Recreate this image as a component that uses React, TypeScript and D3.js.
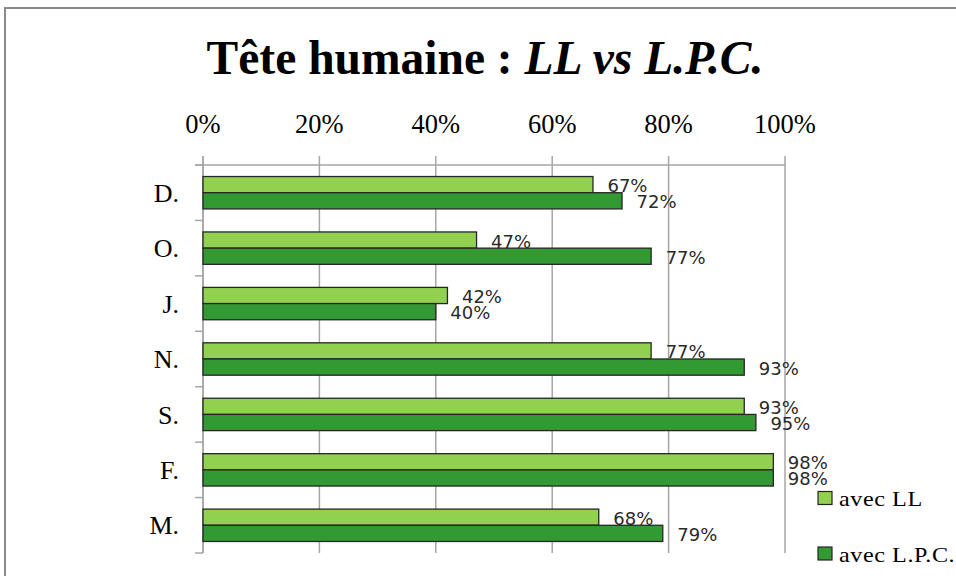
import React from "react";
import * as d3 from "d3";

const categories = ["D.", "O.", "J.", "N.", "S.", "F.", "M."];
const seriesNames = ["avec LL", "avec L.P.C."];
const valuesLL = [67, 47, 42, 77, 93, 98, 68];
const valuesLPC = [72, 77, 40, 93, 95, 98, 79];
const xTicks = [0, 20, 40, 60, 80, 100];
const colors = ["#92d050", "#339933"];

const W = 956;
const H = 576;
const SERIF = "'Liberation Serif', 'Times New Roman', serif";

export default function App() {
  const x = d3.scaleLinear().domain([0, 100]).range([203, 785]);
  const p = 0.416;
  const y = d3
    .scaleBand<string>()
    .domain(categories)
    .range([165, 553])
    .paddingInner(p)
    .paddingOuter(p / 2);
  const sub = d3.scaleBand<number>().domain([0, 1]).range([0, y.bandwidth()]);
  const series = [valuesLL, valuesLPC];
  const step = y.step();
  const boundaries = d3.range(categories.length + 1).map((i) => 165 + i * step);

  return (
    <svg
      width={W}
      height={H}
      style={{ position: "absolute", left: 0, top: 0, display: "block", background: "#fff" }}
    >
      <rect x={5} y={8} width={1000} height={700} fill="#fff" stroke="#8a8a8a" strokeWidth={2} />
      <text
        x={485}
        y={74}
        textAnchor="middle"
        fontFamily={SERIF}
        fontWeight="bold"
        fontSize={47.5}
        fill="#000"
      >
        Tête humaine : <tspan fontStyle="italic">LL vs L.P.C.</tspan>
      </text>
      {xTicks.map((t) => (
        <g key={t}>
          <line x1={x(t)} x2={x(t)} y1={156} y2={553} stroke="#a6a6a6" strokeWidth={1.5} />
          <text
            x={x(t)}
            y={133}
            textAnchor="middle"
            fontFamily={SERIF}
            fontSize={26.5}
            fill="#000"
          >
            {t}%
          </text>
        </g>
      ))}
      <line x1={195} x2={x(100)} y1={165} y2={165} stroke="#a6a6a6" strokeWidth={1.5} />
      <line x1={x(0)} x2={x(0)} y1={156} y2={553} stroke="#a6a6a6" strokeWidth={1.5} />
      {boundaries.map((b, i) => (
        <line key={i} x1={195} x2={x(0)} y1={b} y2={b} stroke="#a6a6a6" strokeWidth={1.5} />
      ))}
      {categories.map((c) => (
        <text
          key={c}
          x={179}
          y={(y(c) as number) + y.bandwidth() / 2}
          dy="0.35em"
          textAnchor="end"
          fontFamily={SERIF}
          fontSize={26}
          fill="#000"
        >
          {c}
        </text>
      ))}
      {series.map((vals, si) =>
        categories.map((c, ci) => {
          const y0 = (y(c) as number) + (sub(si) as number);
          return (
            <g key={`${si}-${ci}`}>
              <rect
                x={x(0)}
                y={y0}
                width={x(vals[ci]) - x(0)}
                height={sub.bandwidth()}
                fill={colors[si]}
                stroke="#262626"
                strokeWidth={1.3}
              />
              <text
                x={x(vals[ci]) + 14.5}
                y={y0 + sub.bandwidth() / 2 + 1}
                dominantBaseline="central"
                fontFamily="'DejaVu Sans', sans-serif"
                fontSize={18}
                fill="#2a2a2a"
              >
                {vals[ci]}%
              </text>
            </g>
          );
        })
      )}
      {seriesNames.map((n, i) => (
        <g key={n}>
          <rect
            x={818}
            y={491.5 + i * 55.5}
            width={14}
            height={13}
            fill={colors[i]}
            stroke="#262626"
            strokeWidth={1.2}
          />
          <text
            transform={`translate(839, ${506 + i * 55.5}) scale(1.15, 1)`}
            fontFamily={SERIF}
            fontSize={21}
            letterSpacing={0.5}
            fill="#000"
          >
            {n}
          </text>
        </g>
      ))}
    </svg>
  );
}
